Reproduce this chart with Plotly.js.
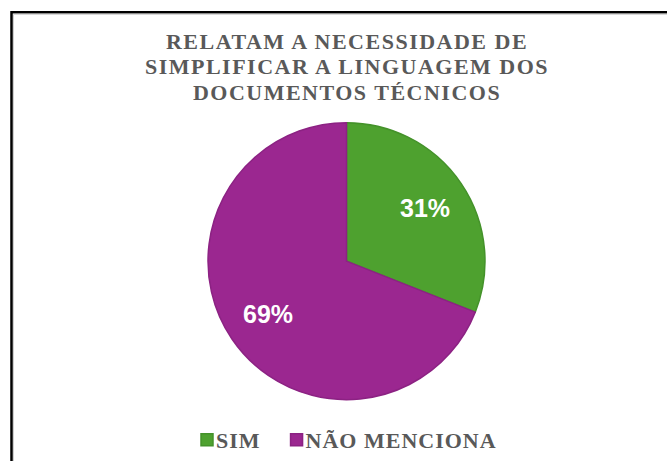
<!DOCTYPE html>
<html>
<head>
<meta charset="utf-8">
<script src="https://cdn.plot.ly/plotly-3.0.1.min.js"></script>
<style>
html,body{margin:0;padding:0;background:#fff;}
.gtitle{letter-spacing:1.5px;}
.legendtext{letter-spacing:1px;}
</style>
</head>
<body>
<div id="chart" style="width:667px;height:461px;"></div>
<script>
var categories = ["SIM", "NÃO MENCIONA"];
var values = [31, 69];
var colors = ["#4ea12f", "#9b2790"];
var lineColors = ["#44922a", "#8c2283"];
var titleText = "RELATAM A NECESSIDADE DE<br>SIMPLIFICAR A LINGUAGEM DOS<br>DOCUMENTOS TÉCNICOS";

var W = 667, H = 461;
var cx = 346.5, cy = 264, r = 140;

var trace = {
  type: "pie",
  labels: categories,
  values: values,
  sort: false,
  direction: "clockwise",
  rotation: 0,
  marker: {colors: colors, line: {color: lineColors, width: 1.5}},
  textinfo: "none",
  hoverinfo: "label+percent",
  domain: {x: [(cx - r) / W, (cx + r) / W], y: [(H - cy - r) / H, (H - cy + r) / H]}
};

// percentage labels placed along each slice's mid-angle
var total = values.reduce(function (a, b) { return a + b; }, 0);
var annotations = [];
var cum = 0;
values.forEach(function (v) {
  var mid = (cum + v / 2) / total * 2 * Math.PI;
  cum += v;
  var k = 0.68 * r;
  var px = cx + k * Math.sin(mid);
  var py = cy - k * Math.cos(mid);
  annotations.push({
    xref: "paper", yref: "paper",
    x: px / W, y: 1 - py / H,
    xanchor: "center", yanchor: "middle",
    showarrow: false,
    text: Math.round(v / total * 100) + "%",
    font: {family: "Liberation Sans, Arial, sans-serif", size: 25, color: "#ffffff", weight: "bold"}
  });
});

var layout = {
  width: W, height: H,
  margin: {l: 0, r: 0, t: 0, b: 0},
  paper_bgcolor: "#ffffff",
  title: {
    text: titleText,
    font: {family: "Liberation Serif", size: 22, color: "#595959", weight: "bold"},
    x: 347 / W, xanchor: "center",
    y: 1 - 49 / H, yanchor: "top"
  },
  showlegend: true,
  legend: {
    orientation: "h",
    x: 176 / W, xanchor: "left",
    y: 1 - 424 / H, yanchor: "top",
    font: {family: "Liberation Serif", size: 22, color: "#595959", weight: "bold"},
    itemwidth: 30,
    traceorder: "normal"
  },
  annotations: annotations,
  shapes: [
    {type: "rect", xref: "paper", yref: "paper", x0: 11.5 / W, x1: 1.2, y0: -0.2, y1: 1 - 12.5 / H,
     line: {color: "#000000", width: 2.5}, fillcolor: "rgba(0,0,0,0)", layer: "above"},
    {type: "rect", xref: "paper", yref: "paper", x0: 13.5 / W, x1: 1.2, y0: -0.2, y1: 1 - 14.5 / H,
     line: {color: "#d0d0d0", width: 1}, fillcolor: "rgba(0,0,0,0)", layer: "above"}
  ]
};

Plotly.newPlot("chart", [trace], layout, {displayModeBar: false, staticPlot: true}).then(function (gd) {
  // move legend squares next to their labels
  gd.querySelectorAll(".legend .legendpoints").forEach(function (p) {
    p.setAttribute("transform", "translate(11,0)");
  });
  // tighter title line spacing
  gd.querySelectorAll(".gtitle tspan.line").forEach(function (t) {
    var dy = t.getAttribute("dy");
    if (dy && dy.indexOf("em") > 0) {
      var v = parseFloat(dy);
      t.setAttribute("dy", (v * 1.15 / 1.3) + "em");
    }
  });
});
</script>
</body>
</html>
